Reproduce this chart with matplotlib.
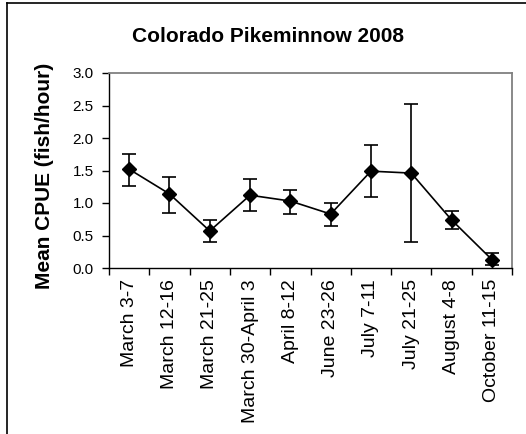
import matplotlib
matplotlib.use("Agg")
import matplotlib.pyplot as plt
from matplotlib.lines import Line2D
import numpy as np

plt.rcParams['font.family'] = ['Liberation Sans', 'DejaVu Sans']

periods = ["March 3-7", "March 12-16", "March 21-25", "March 30-April 3",
           "April 8-12", "June 23-26", "July 7-11", "July 21-25",
           "August 4-8", "October 11-15"]
mean_cpue = [1.52, 1.14, 0.57, 1.12, 1.03, 0.83, 1.49, 1.46, 0.74, 0.13]
upper = [1.75, 1.40, 0.74, 1.37, 1.20, 1.00, 1.89, 2.53, 0.88, 0.23]
lower = [1.26, 0.85, 0.40, 0.88, 0.83, 0.65, 1.09, 0.40, 0.60, 0.05]
y_ticks = [0.0, 0.5, 1.0, 1.5, 2.0, 2.5, 3.0]

W, H = 526, 434
fig = plt.figure(figsize=(W / 100, H / 100), dpi=100)
ax = fig.add_axes([109 / W, 1 - 268 / H, 403 / W, 195 / H])

x = np.arange(len(periods))
yerr = [np.array(mean_cpue) - np.array(lower), np.array(upper) - np.array(mean_cpue)]
ax.errorbar(x, mean_cpue, yerr=yerr, color="black", lw=1.2, marker="D",
            markersize=7, capsize=5, capthick=1.2, elinewidth=1.2, zorder=3)

ax.set_xlim(-0.5, len(periods) - 0.5)
ax.set_ylim(0, 3.0)
ax.set_yticks(y_ticks)
ax.set_yticklabels([f"{v:.1f}" for v in y_ticks], fontsize=11)

# category labels centred, ticks on category boundaries
ax.set_xticks(x)
ax.set_xticklabels(periods, rotation=90, fontsize=14)
ax.tick_params(axis="x", which="major", length=0, pad=8)
ax.set_xticks(np.arange(-0.5, len(periods), 1.0), minor=True)
ax.tick_params(axis="x", which="minor", length=5, width=1, direction="out")
ax.tick_params(axis="y", length=5, width=1, direction="out", pad=6)

for side in ("top", "right"):
    ax.spines[side].set_color("#808080")
    ax.spines[side].set_linewidth(1.3)
for side in ("left", "bottom"):
    ax.spines[side].set_color("black")
    ax.spines[side].set_linewidth(1.0)

fig.text(45 / W, 1 - 176 / H, "Mean CPUE (fish/hour)", rotation=90, ha="center",
         va="center", fontsize=15, fontweight="bold")
fig.text(268 / W, 1 - 36 / H, "Colorado Pikeminnow 2008", ha="center",
         va="center", fontsize=15, fontweight="bold")

# outer chart frame
fig.add_artist(Line2D([7 / W, 7 / W], [0, 1 - 3 / H], color="black", lw=1.2,
                      transform=fig.transFigure))
fig.add_artist(Line2D([7 / W, 1], [1 - 3 / H, 1 - 3 / H], color="black", lw=1.2,
                      transform=fig.transFigure))

fig.savefig("out.png", dpi=100)
